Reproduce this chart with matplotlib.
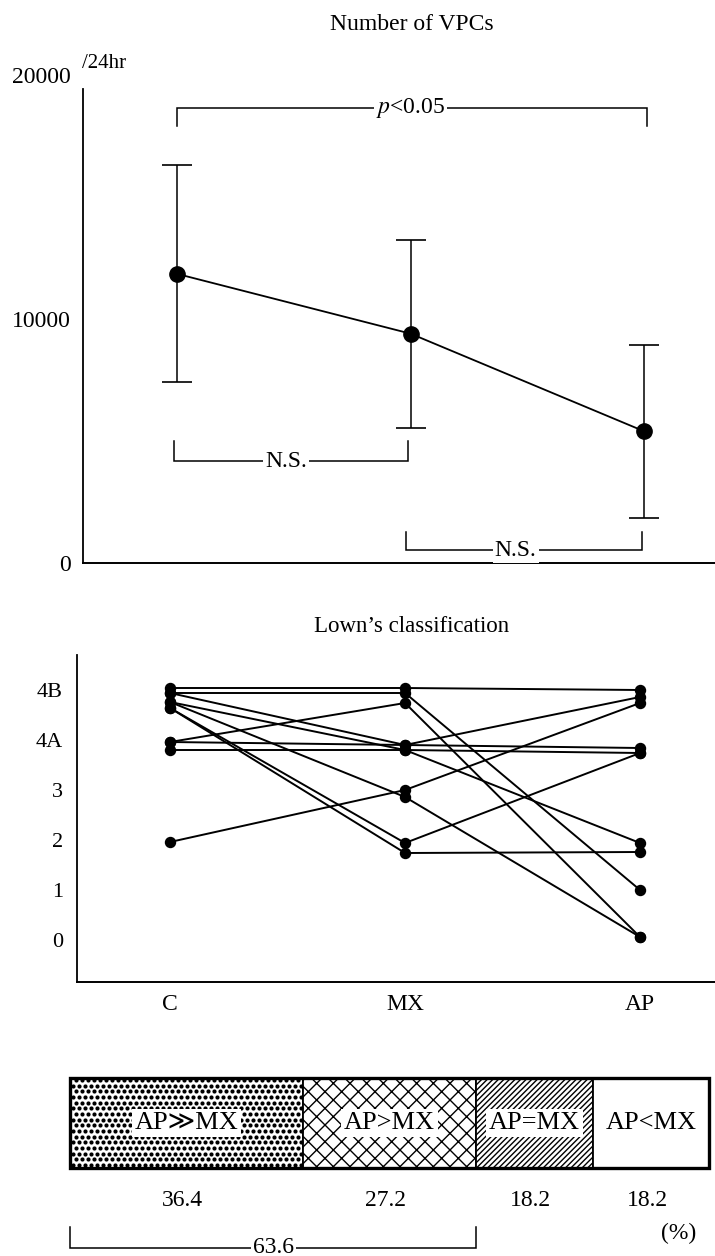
import matplotlib
matplotlib.use('Agg')
import matplotlib.pyplot as plt
import numpy as np
from matplotlib.patches import Rectangle

plt.rcParams['font.family'] = ['Liberation Serif', 'DejaVu Serif', 'DejaVu Sans']
plt.rcParams['mathtext.fontset'] = 'stix'

# ---------------- data ----------------
groups = ['C', 'MX', 'AP']

# Number of VPCs (/24hr): mean and SD
vpc_mean = [11850, 9400, 5400]
vpc_sd = [4450, 3850, 3550]
vpc_yticks = [0, 10000, 20000]

# Lown's classification per patient (4A -> 4, 4B -> 5), small stacking offsets as drawn
lown_labels = ['0', '1', '2', '3', '4A', '4B']
lown_c = [5.04, 4.94, 3.96, 3.96, 3.80, 4.94, 4.76, 4.76, 1.96, 4.64, 4.64]
lown_mx = [5.04, 4.94, 4.74, 3.90, 3.80, 3.90, 3.80, 2.86, 3.00, 1.94, 1.74]
lown_ap = [5.00, 1.00, 0.06, 3.84, 3.74, 4.86, 1.94, 0.06, 4.74, 3.74, 1.76]

# distribution (%)
ratio_labels = ['AP≫MX', 'AP>MX', 'AP=MX', 'AP<MX']
ratio_pct = [36.4, 27.2, 18.2, 18.2]
ratio_bracket = 63.6

# ---------------- figure ----------------
W, H = 715, 1256
fig = plt.figure(figsize=(W / 100, H / 100), dpi=100)
FAM = ['Liberation Serif', 'DejaVu Sans']


def ax_px(left, top, right, bottom):
    return fig.add_axes([left / W, 1 - bottom / H, (right - left) / W, (bottom - top) / H])


def bracket(ax, x0, x1, y, ytick, label, xt, fs=17):
    ax.plot([x0, x0, x1, x1], [ytick, y, y, ytick], color='black', lw=1.1,
            clip_on=False, solid_joinstyle='miter')
    ax.text(xt, y, label, ha='center', va='center', fontsize=fs,
            bbox=dict(fc='white', ec='none', pad=1.5), clip_on=False, zorder=5)


# ---- top panel ----
ax1 = ax_px(83, 75, 715, 563)
x = np.arange(len(groups))
ax1.errorbar(x, vpc_mean, yerr=vpc_sd, fmt='-o', color='black', ms=11, lw=1.3,
             elinewidth=1.1, capsize=11, capthick=1.2, clip_on=False)
ax1.set_xlim(-0.4026, 2.304)
ax1.set_ylim(0, 20000)
ax1.set_yticks(vpc_yticks)
ax1.set_yticklabels([str(v) for v in vpc_yticks], fontsize=17)
ax1.set_xticks([])
ax1.tick_params(axis='y', length=0, pad=9)
for s in ['top', 'right']:
    ax1.spines[s].set_visible(False)
ax1.spines['left'].set_bounds(0, 19430)
ax1.spines['left'].set_linewidth(1.3)
ax1.spines['bottom'].set_linewidth(1.4)

bracket(ax1, 0, 2.013, 18650, 17910, r'$p$<0.05', 1.0)
bracket(ax1, -0.013, 0.99, 4180, 4980, 'N.S.', 0.467)
bracket(ax1, 0.98, 1.99, 530, 1270, 'N.S.', 1.45)

fig.text(412 / W, 1 - 25 / H, 'Number of VPCs', ha='center', va='center', fontsize=17)
fig.text(82 / W, 1 - 63 / H, '/24hr', ha='left', va='center', fontsize=15)

# ---- middle panel ----
ax2 = ax_px(77, 655, 715, 982)
for c, m, a in zip(lown_c, lown_mx, lown_ap):
    ax2.plot(x, [c, m, a], '-o', color='black', lw=1.4, ms=7.2)
ax2.set_xlim(-0.396, 2.319)
ax2.set_ylim(-0.84, 5.7)
ax2.set_yticks(range(len(lown_labels)))
ax2.set_yticklabels(lown_labels, fontsize=16)
ax2.set_xticks(x)
ax2.set_xticklabels(groups, fontsize=17)
ax2.tick_params(axis='y', length=0, pad=10)
ax2.tick_params(axis='x', length=0, pad=9)
for s in ['top', 'right']:
    ax2.spines[s].set_visible(False)
ax2.spines['left'].set_linewidth(1.3)
ax2.spines['bottom'].set_linewidth(1.4)
fig.text(412 / W, 1 - 627 / H, 'Lown\u2019s classification', ha='center', va='center', fontsize=16.5)

# ---- bottom bar ----
ax3 = ax_px(70, 1060, 709, 1256)
ax3.set_xlim(0, 100)
ax3.set_ylim(-1.478, 0.7)
ax3.axis('off')
lefts = np.concatenate([[0], np.cumsum(ratio_pct)[:-1]])
hatches = [None, 'xx', '//////', None]
bars = []
for lft, pct, hh in zip(lefts, ratio_pct, hatches):
    b = ax3.barh(0, pct, left=lft, height=1, color='white', edgecolor='black',
                 lw=1.3, hatch=hh, zorder=2)
    bars.append(b[0])

# dot screen for the first segment
dx, dy = 0.94, 0.063
pts_x, pts_y = [], []
for r, yy in enumerate(np.arange(-0.5 + dy / 2, 0.5, dy)):
    off = (dx / 2) if r % 2 else 0
    for xx in np.arange(0.4 + off, ratio_pct[0], dx):
        pts_x.append(xx)
        pts_y.append(yy)
sc = ax3.scatter(pts_x, pts_y, s=9, color='black', lw=0, zorder=3)
sc.set_clip_path(bars[0])

ax3.add_patch(Rectangle((0, -0.5), 100, 1, fill=False, lw=2.4, ec='black', zorder=6,
                        clip_on=False))
for lft, pct, lab in zip(lefts, ratio_pct, ratio_labels):
    cx = lft + pct / 2
    ax3.text(cx, 0, lab, ha='center', va='center', fontsize=19, zorder=7, family=FAM,
             bbox=dict(fc='white', ec='none', pad=2.0))
    ax3.text(cx - 0.6, -0.856, f'{pct}', ha='center', va='center', fontsize=17)
ax3.text(95.3, -1.233, '(%)', ha='center', va='center', fontsize=17)
bracket(ax3, 0, ratio_bracket, -1.389, -1.156, f'{ratio_bracket}', ratio_bracket / 2, fs=17)

fig.savefig('out.png', dpi=100, facecolor='white')
